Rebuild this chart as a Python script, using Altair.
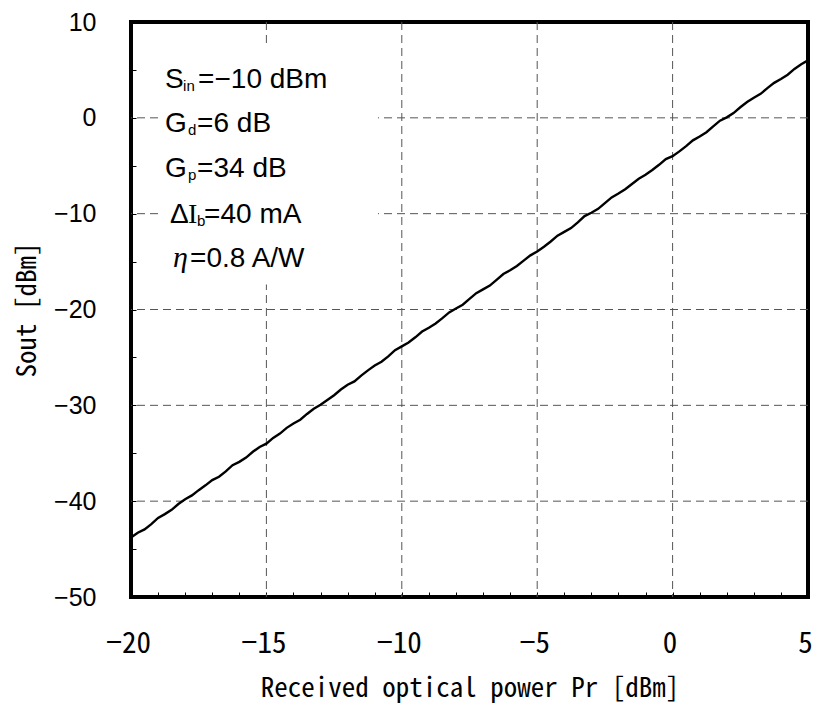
import altair as alt
import pandas as pd

# Received optical power (dBm) and output signal power (dBm)
pr_dbm = [
    -20.0, -19.75, -19.5, -19.25, -19.0, -18.75, -18.5, -18.25, -18.0, -17.75,
    -17.5, -17.25, -17.0, -16.75, -16.5, -16.25, -16.0, -15.75, -15.5, -15.25,
    -15.0, -14.75, -14.5, -14.25, -14.0, -13.75, -13.5, -13.25, -13.0, -12.75,
    -12.5, -12.25, -12.0, -11.75, -11.5, -11.25, -11.0, -10.75, -10.5, -10.25,
    -10.0, -9.75, -9.5, -9.25, -9.0, -8.75, -8.5, -8.25, -8.0, -7.75,
    -7.5, -7.25, -7.0, -6.75, -6.5, -6.25, -6.0, -5.75, -5.5, -5.25,
    -5.0, -4.75, -4.5, -4.25, -4.0, -3.75, -3.5, -3.25, -3.0, -2.75,
    -2.5, -2.25, -2.0, -1.75, -1.5, -1.25, -1.0, -0.75, -0.5, -0.25,
    0.0, 0.25, 0.5, 0.75, 1.0, 1.25, 1.5, 1.75, 2.0, 2.25,
    2.5, 2.75, 3.0, 3.25, 3.5, 3.75, 4.0, 4.25, 4.5, 4.75, 5.0,
]
sout_dbm = [
    -43.8, -43.3, -42.95, -42.4, -41.75, -41.35, -40.9, -40.3, -39.8, -39.4,
    -38.85, -38.35, -37.8, -37.45, -36.9, -36.25, -35.9, -35.45, -34.85, -34.35,
    -34.0, -33.4, -32.95, -32.35, -31.9, -31.5, -30.9, -30.35, -29.95, -29.45,
    -28.95, -28.35, -27.85, -27.5, -26.9, -26.35, -25.85, -25.45, -24.9, -24.25,
    -23.85, -23.45, -22.9, -22.3, -21.9, -21.45, -20.9, -20.3, -19.9, -19.5,
    -18.9, -18.3, -17.9, -17.5, -16.9, -16.3, -15.9, -15.45, -14.9, -14.35,
    -13.95, -13.45, -12.9, -12.3, -11.9, -11.5, -10.9, -10.25, -9.9, -9.5,
    -8.9, -8.3, -7.9, -7.45, -6.9, -6.35, -5.95, -5.45, -4.9, -4.3,
    -4.0, -3.5, -2.95, -2.35, -1.95, -1.5, -0.9, -0.3, 0.05, 0.5,
    1.1, 1.65, 2.1, 2.5, 3.1, 3.65, 4.05, 4.5, 5.1, 5.6, 6.0,
]

grid_pr = [-15, -10, -5, 0]
grid_sout = [0, -10, -20, -30, -40]

GOTHIC = "Noto Sans Mono CJK JP, Noto Sans CJK JP, Liberation Sans Narrow, sans-serif"
SANS = "Liberation Sans, Arial, sans-serif"
SERIF = "Liberation Serif, serif"

curve = pd.DataFrame({"Pr": pr_dbm, "Sout": sout_dbm})
one = pd.DataFrame({"k": [0]})

xscale = alt.Scale(domain=[-20, 5], nice=False, zero=False)
yscale = alt.Scale(domain=[-50, 10], nice=False, zero=False)

x_axis = alt.Axis(
    values=list(range(-20, 6)),
    labelExpr="datum.value % 5 == 0 ? (datum.value < 0 ? '\u2212' + abs(datum.value) : '' + datum.value) : ''",
    grid=False, domain=False, ticks=True, tickSize=5, offset=-5,
    tickColor="black", tickWidth=1,
    labelFont=GOTHIC, labelFontSize=29, labelColor="black", labelPadding=32,
    labelFlush=False, labelOverlap=False, labelBound=False, labelOffset=-3,
    title="Received optical power Pr [dBm]", titleFont=GOTHIC, titleFontSize=27,
    titleFontWeight="normal", titleColor="black", titlePadding=17,
)
y_axis = alt.Axis(
    values=list(range(-50, 11, 5)),
    labelExpr="datum.value % 10 == 0 ? format(datum.value, 'd') : ''",
    grid=False, domain=False, ticks=True, tickSize=5, offset=-5,
    tickColor="black", tickWidth=1,
    labelFont=SANS, labelFontSize=25, labelColor="black", labelPadding=35,
    labelFlush=False, labelOverlap=False, labelBound=False,
    title="Sout [dBm]", titleFont=GOTHIC, titleFontSize=27,
    titleFontWeight="normal", titleColor="black", titlePadding=12,
)

X = alt.X("Pr:Q", scale=xscale, axis=x_axis)
Y = alt.Y("Sout:Q", scale=yscale, axis=y_axis)

dash = dict(color="#555555", strokeWidth=1, strokeDash=[8, 5])
grid_v = alt.Chart(pd.DataFrame({"Pr": grid_pr})).mark_rule(**dash).encode(x=X)
grid_h = alt.Chart(pd.DataFrame({"Sout": grid_sout})).mark_rule(**dash).encode(y=Y)

# white backdrop behind the parameter list
backdrop = alt.Chart(one).mark_rect(fill="white").encode(
    x=alt.XDatum(-18.93, axis=x_axis), x2=alt.datum(-10.88),
    y=alt.YDatum(7.3, axis=y_axis), y2=alt.datum(-17.4),
)

line = alt.Chart(curve).mark_line(color="black", strokeWidth=2.4).encode(x=X, y=Y)

# parameter list: one baseline per row, fragments placed along it
note_x = -18.74
note_rows = [3.11, -1.48, -6.17, -10.97, -15.57]
fragments = [
    # row, text, dx, dy, size, font, style
    (0, "S", 0, 0, 28, SANS, "normal"),
    (0, "in", 18, 3, 15, SANS, "normal"),
    (0, "=\u221210 dBm", 33, 0, 28, SANS, "normal"),
    (1, "G", 0, 0, 28, SANS, "normal"),
    (1, "d", 23, 3, 15, SANS, "normal"),
    (1, "=6 dB", 32, 0, 28, SANS, "normal"),
    (2, "G", 0, 0, 28, SANS, "normal"),
    (2, "p", 23, 3, 15, SANS, "normal"),
    (2, "=34 dB", 32, 0, 28, SANS, "normal"),
    (3, "\u0394", 5, 0, 28, SANS, "normal"),
    (3, "I", 23, 0, 28, SERIF, "normal"),
    (3, "b", 32, 3, 15, SANS, "normal"),
    (3, "=40 mA", 39, 0, 28, SANS, "normal"),
    (4, "\u03b7", 8, 0, 30, SERIF, "italic"),
    (4, "=0.8 A/W", 25, 0, 28, SANS, "normal"),
]
notes = []
for row, txt, dx, dy, size, font, style in fragments:
    notes.append(
        alt.Chart(one).mark_text(
            text=txt, align="left", baseline="alphabetic", dx=dx, dy=dy,
            fontSize=size, font=font, fontStyle=style, color="black",
        ).encode(
            x=alt.XDatum(note_x, axis=x_axis),
            y=alt.YDatum(note_rows[row], axis=y_axis),
        )
    )

chart = alt.layer(grid_v, grid_h, backdrop, line, *notes).properties(
    width=677, height=575,
    background="white",
    autosize=alt.AutoSizeParams(type="none"),
    padding={"left": 131, "top": 22, "right": 6, "bottom": 107},
).configure_view(
    stroke="black", strokeWidth=4
).configure_axis(
    labelOverlap=False
)

chart.save("out.html", embed_options={"renderer": "svg", "actions": False})
